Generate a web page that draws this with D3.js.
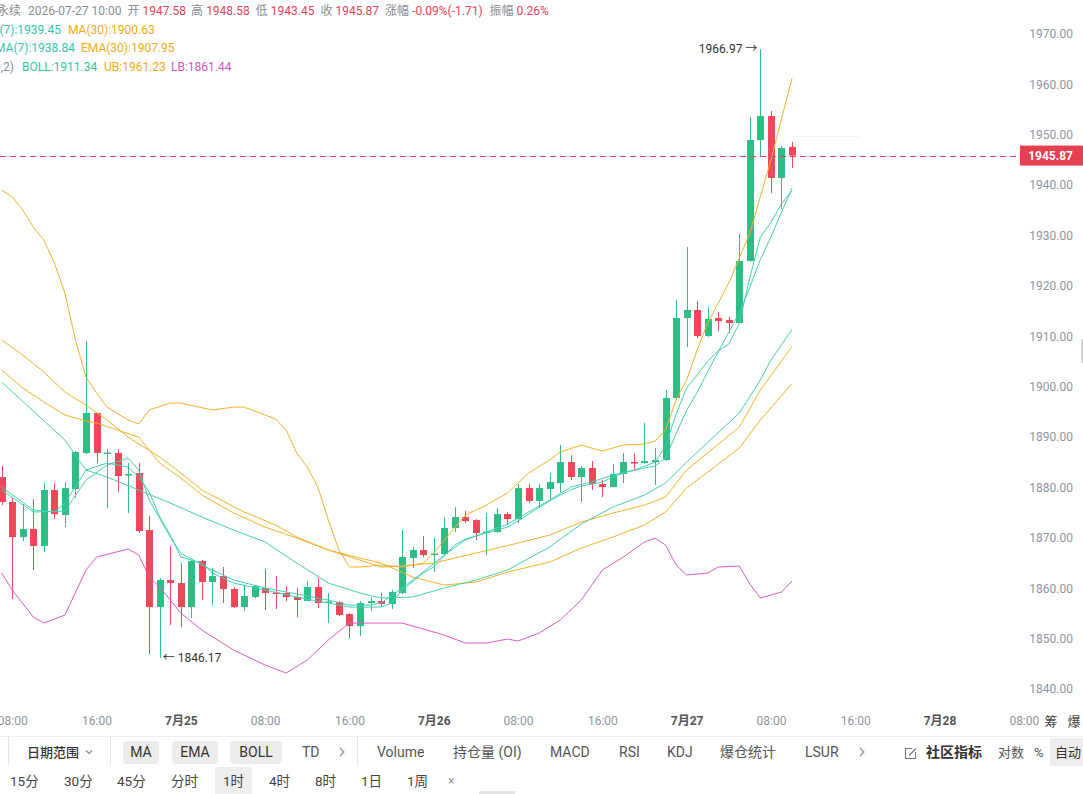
<!DOCTYPE html>
<html>
<head>
<meta charset="utf-8">
<script src="https://cdn.jsdelivr.net/npm/d3@7"></script>
<style>
  body { margin: 0; background: #fff; }
  svg { display: block; font-family: Roboto, "Noto Sans CJK SC", sans-serif; }
</style>
</head>
<body>
<div id="chart"></div>
<script>
// 1h candles, first one is 7/24 07:00
const startTime = new Date(2026, 6, 24, 7);

const opens = [1882.07, 1877.11, 1870.16, 1871.75, 1868.37, 1879.49, 1874.53, 1879.69, 1886.83, 1894.77,
  1886.73, 1886.83, 1882.47, 1882.86, 1871.55, 1856.26, 1861.63, 1861.03, 1856.26, 1865.39,
  1861.23, 1862.42, 1859.84, 1856.26, 1858.25, 1860.04, 1859.14, 1859.05, 1858.25, 1857.46,
  1860.24, 1857.16, 1857.26, 1854.88, 1852.49, 1857.06, 1857.46, 1856.86, 1859.05, 1865.99,
  1867.58, 1866.69, 1866.78, 1871.95, 1874.13, 1873.53, 1870.95, 1871.15, 1874.72, 1873.73,
  1879.88, 1877.31, 1879.69, 1880.88, 1885.05, 1882.07, 1883.86, 1880.68, 1880.08, 1882.66,
  1885.05, 1884.85, 1885.05, 1885.44, 1897.75, 1913.63, 1915.22, 1910.05, 1913.63, 1913.23,
  1912.64, 1924.94, 1948.96, 1953.72, 1941.42, 1947.58];
const highs = [1884.25, 1877.90, 1876.71, 1877.70, 1880.88, 1880.88, 1881.08, 1887.23, 1909.06, 1894.77,
  1887.63, 1887.63, 1884.85, 1884.85, 1874.33, 1862.02, 1868.37, 1864.99, 1865.59, 1865.59,
  1864.01, 1864.20, 1860.24, 1860.43, 1860.63, 1863.81, 1862.42, 1860.43, 1860.04, 1861.43,
  1862.02, 1859.05, 1857.46, 1855.07, 1857.46, 1858.25, 1859.05, 1859.64, 1871.55, 1868.18,
  1870.36, 1869.96, 1874.13, 1876.11, 1875.32, 1873.73, 1874.92, 1875.92, 1875.12, 1880.68,
  1880.68, 1880.68, 1882.86, 1888.42, 1886.43, 1884.25, 1885.25, 1881.47, 1884.65, 1886.83,
  1886.83, 1892.79, 1887.82, 1899.34, 1917.20, 1927.72, 1917.00, 1915.81, 1914.82, 1913.83,
  1930.30, 1953.53, 1966.97, 1954.72, 1947.77, 1948.58];
const lows = [1876.50, 1857.85, 1869.36, 1863.61, 1867.18, 1873.73, 1872.14, 1877.90, 1886.63, 1884.85,
  1875.92, 1879.09, 1874.92, 1870.95, 1846.94, 1846.17, 1852.69, 1852.29, 1854.08, 1857.65,
  1856.66, 1857.06, 1856.06, 1855.47, 1858.05, 1855.67, 1855.87, 1857.46, 1854.28, 1857.46,
  1856.06, 1853.09, 1854.48, 1850.11, 1850.51, 1855.47, 1856.26, 1855.87, 1858.85, 1864.01,
  1866.19, 1863.21, 1866.58, 1871.15, 1872.94, 1869.56, 1866.58, 1871.05, 1872.54, 1872.94,
  1876.91, 1875.92, 1877.70, 1879.09, 1881.47, 1877.11, 1879.49, 1878.10, 1879.98, 1880.88,
  1883.66, 1884.75, 1880.48, 1885.24, 1897.35, 1907.87, 1909.66, 1909.86, 1911.05, 1910.65,
  1912.54, 1924.84, 1945.59, 1938.44, 1935.26, 1943.45];
const closes = [1877.11, 1870.16, 1871.75, 1868.37, 1879.49, 1874.72, 1879.88, 1887.03, 1894.77, 1886.83,
  1886.93, 1882.27, 1882.66, 1871.35, 1856.26, 1861.63, 1861.03, 1856.26, 1865.39, 1861.23,
  1862.42, 1859.84, 1856.26, 1858.45, 1860.43, 1859.05, 1858.95, 1858.25, 1857.65, 1860.24,
  1857.06, 1857.36, 1854.68, 1852.49, 1857.06, 1857.46, 1856.86, 1859.24, 1866.19, 1867.58,
  1866.59, 1866.88, 1871.95, 1874.13, 1873.33, 1870.95, 1871.25, 1874.72, 1873.73, 1879.88,
  1877.31, 1879.88, 1881.08, 1885.05, 1882.07, 1883.86, 1880.68, 1880.08, 1882.66, 1885.05,
  1884.85, 1885.24, 1885.44, 1897.75, 1913.63, 1915.22, 1910.05, 1913.43, 1913.03, 1912.64,
  1924.94, 1948.96, 1953.72, 1941.42, 1947.37, 1945.87];

// indicator lines: [candle index, value]
const ma7 = [[0, 1880.08], [3, 1875.52], [5, 1875.12], [6, 1876.91], [8, 1883.46], [10, 1884.85], [12, 1884.05],
  [13, 1882.07], [14, 1879.10], [15, 1874.2], [16, 1870.5], [17, 1866.2], [19, 1865.00], [20, 1863.02], [22, 1861.03],
  [25, 1859.64], [28, 1858.25], [31, 1857.06], [33, 1856.26], [36, 1856.26], [37, 1857.06], [38, 1859.64],
  [40, 1863.02], [41, 1864.21], [42, 1866.39], [43, 1868.57], [44, 1869.76], [46, 1870.95], [48, 1872.14],
  [49, 1873.33], [50, 1874.72], [52, 1877.31], [53, 1878.50], [54, 1879.49], [55, 1880.28], [57, 1881.08],
  [58, 1882.07], [59, 1882.86], [61, 1883.86], [62, 1884.25], [63, 1885.87], [64, 1890.66], [65, 1895.31],
  [66, 1898.88], [67, 1902.97], [68, 1906.94], [69, 1910.82], [70, 1914.71], [71, 1919.75], [72, 1925.25],
  [73, 1929.73], [74, 1934.58], [75, 1939.45]];
const ema7 = [[0, 1879.49], [3, 1875.12], [6, 1875.32], [8, 1881.47], [10, 1884.45], [12, 1885.84], [13, 1883.46],
  [14, 1877.50], [16, 1870.16], [17, 1866.98], [19, 1864.60], [22, 1861.63], [25, 1860.04], [28, 1858.85],
  [31, 1857.65], [33, 1856.66], [35, 1856.66], [36, 1857.06], [38, 1860.04], [39, 1861.63], [40, 1863.21],
  [42, 1866.59], [44, 1869.57], [46, 1871.15], [48, 1872.74], [50, 1875.12], [52, 1877.50], [54, 1880.08],
  [56, 1881.08], [58, 1882.47], [60, 1883.46], [62, 1885.00], [63, 1888.19], [64, 1894.55], [65, 1899.72],
  [66, 1902.30], [67, 1905.09], [68, 1907.07], [69, 1908.46], [70, 1912.58], [71, 1921.68], [72, 1929.69],
  [73, 1932.62], [74, 1936.31], [75, 1938.84]];
const ma30 = [[0, 1909.26], [2, 1906.28], [4, 1902.91], [6, 1898.94], [8, 1896.36], [10, 1893.38], [12, 1890.00],
  [15, 1886.04], [17, 1882.86], [19, 1879.49], [23, 1875.12], [26, 1872.54], [28, 1870.16], [31, 1867.58],
  [34, 1865.99], [36, 1865.00], [39, 1862.22], [42, 1860.63], [45, 1861.23], [48, 1863.21], [52, 1865.20],
  [55, 1867.97], [58, 1870.16], [61, 1872.54], [63, 1875.12], [65, 1879.88], [70, 1887.82], [72, 1893.38],
  [75, 1900.63]];
const ema30 = [[0, 1903.31], [2, 1899.73], [4, 1896.96], [6, 1894.37], [8, 1893.18], [9, 1892.79], [11, 1891.40],
  [13, 1890.00], [15, 1884.85], [17, 1881.87], [19, 1878.50], [22, 1874.92], [25, 1872.14], [28, 1869.96],
  [31, 1867.58], [34, 1865.59], [36, 1864.20], [38, 1864.40], [41, 1865.00], [45, 1866.98], [49, 1868.96],
  [52, 1870.55], [55, 1873.13], [58, 1874.92], [61, 1876.51], [63, 1878.10], [65, 1883.46], [70, 1891.99],
  [72, 1899.34], [75, 1907.95]];
const bollMid = [[0, 1900.92], [6, 1889.41], [8, 1883.46], [10, 1882.07], [13, 1879.49], [16, 1876.91],
  [19, 1874.13], [22, 1871.55], [25, 1869.17], [28, 1865.00], [31, 1861.03], [34, 1859.05], [36, 1858.05],
  [39, 1858.25], [42, 1860.04], [45, 1861.63], [48, 1863.61], [52, 1868.18], [55, 1872.74], [58, 1876.11],
  [61, 1878.50], [63, 1880.88], [65, 1885.05], [70, 1894.77], [72, 1901.32], [73, 1905.29], [75, 1911.34]];
const bollUp = [[0, 1939.04], [1, 1937.65], [2, 1935.07], [3, 1931.69], [4, 1929.11], [5, 1924.54], [6, 1918.59],
  [7, 1909.26], [8, 1901.92], [9, 1898.74], [10, 1895.96], [12, 1893.38], [13, 1892.59], [14, 1895.37],
  [16, 1896.76], [17, 1896.76], [20, 1895.37], [22, 1895.96], [23, 1895.96], [25, 1894.38], [26, 1893.58],
  [27, 1891.40], [28, 1886.83], [29, 1884.06], [30, 1880.09], [31, 1873.54], [32, 1867.58], [33, 1864.21],
  [34, 1864.21], [36, 1864.60], [38, 1864.21], [40, 1865.00], [41, 1866.98], [42, 1869.57], [44, 1874.53],
  [46, 1876.51], [48, 1878.89], [50, 1882.86], [52, 1885.44], [53, 1887.03], [55, 1888.42], [57, 1887.23],
  [59, 1888.42], [61, 1888.62], [62, 1889.21], [63, 1891.40], [64, 1897.35], [65, 1901.32], [66, 1907.28],
  [67, 1912.64], [69, 1920.57], [71, 1930.50], [73, 1944.99], [75, 1961.23]];
const bollLow = [[0, 1863.02], [1, 1859.64], [3, 1854.28], [4, 1853.09], [6, 1854.68], [8, 1863.61], [9, 1866.19],
  [12, 1867.78], [13, 1866.59], [14, 1862.22], [15, 1860.24], [17, 1855.07], [19, 1851.70], [22, 1847.73],
  [25, 1844.75], [27, 1843.16], [29, 1845.75], [31, 1849.72], [33, 1853.09], [34, 1853.09], [38, 1853.09],
  [40, 1851.90], [42, 1850.71], [44, 1849.12], [46, 1849.12], [48, 1849.91], [49, 1849.52], [51, 1851.10],
  [53, 1853.69], [55, 1857.65], [57, 1863.61], [59, 1866.19], [61, 1869.17], [62, 1869.96], [63, 1868.57],
  [64, 1864.60], [65, 1862.62], [67, 1863.02], [68, 1864.21], [70, 1864.40], [71, 1860.83], [72, 1858.05],
  [74, 1859.24], [75, 1861.44]];

const priceTicks = d3.range(1840, 1971, 10);

const toolbarTop = ["MA", "EMA", "BOLL"];
const toolbarMid = ["TD"];
const toolbarPanels = ["Volume", "持仓量 (OI)", "MACD", "RSI", "KDJ", "爆仓统计", "LSUR"];
const periods = ["15分", "30分", "45分", "分时", "1时", "4时", "8时", "1日", "1周"];

const width = 1083, height = 794;
const up = "#2ebd85", down = "#f0485b";
const teal = "#46d0b2", orange = "#f2b32a", pink = "#dc5cc6";
const gray = "#8a8d93", red = "#e5445a";
// plain hyphen instead of d3's unicode minus
const f2 = v => d3.format(".2f")(v).replace("−", "-");
const pct = v => d3.format(".2%")(v).replace("−", "-");

const svg = d3.select("#chart")
  .append("svg")
  .attr("width", width)
  .attr("height", height);

const times = opens.map((d, i) => d3.timeHour.offset(startTime, i));

const x = d3.scaleTime()
  .domain([times[0], times[times.length - 1]])
  .range([1.7, 792]);

const y = d3.scaleLinear()
  .domain([1840, 1970])
  .range([689, 34]);

// faint crosshair remnant
svg.append("line")
  .attr("x1", 796).attr("x2", 860)
  .attr("y1", 136.5).attr("y2", 136.5)
  .attr("stroke", "#f4f4f4");

// candles
const candles = svg.append("g");
const candle = candles.selectAll("g")
  .data(opens.map((o, i) => ({ t: times[i], o: o, h: highs[i], l: lows[i], c: closes[i] })))
  .enter()
  .append("g")
  .attr("fill", d => d.c >= d.o ? up : down)
  .attr("stroke", d => d.c >= d.o ? up : down);

candle.append("line")
  .attr("x1", d => Math.round(x(d.t)) + 0.5)
  .attr("x2", d => Math.round(x(d.t)) + 0.5)
  .attr("y1", d => y(d.h))
  .attr("y2", d => y(d.l));

candle.append("rect")
  .attr("stroke", "none")
  .attr("x", d => Math.round(x(d.t)) - 3)
  .attr("width", 7)
  .attr("y", d => y(Math.max(d.o, d.c)))
  .attr("height", d => Math.max(1.5, Math.abs(y(d.o) - y(d.c))));

// indicator lines
const line = d3.line()
  .x(d => x(times[d[0]]))
  .y(d => y(d[1]));

[[bollLow, pink], [bollUp, orange], [ma30, orange], [ema30, orange],
 [bollMid, teal], [ma7, teal], [ema7, teal]].forEach(([data, color]) => {
  svg.append("path")
    .datum(data)
    .attr("fill", "none")
    .attr("stroke", color)
    .attr("stroke-width", 1)
    .attr("d", line);
});

// high / low marks
const hiIdx = d3.maxIndex(highs), loIdx = d3.minIndex(lows);
svg.append("text")
  .attr("x", x(times[hiIdx]) - 3)
  .attr("y", y(highs[hiIdx]))
  .attr("dy", "0.35em")
  .attr("text-anchor", "end")
  .attr("font-size", 12)
  .attr("fill", "#333")
  .text(f2(highs[hiIdx]) + " →");
svg.append("text")
  .attr("x", x(times[loIdx]) + 3)
  .attr("y", y(lows[loIdx]))
  .attr("dy", "0.35em")
  .attr("font-size", 12)
  .attr("fill", "#333")
  .text("← " + f2(lows[loIdx]));

// last price line + tag
const last = closes[closes.length - 1];
const lastY = Math.round(y(last)) + 0.5;
svg.append("line")
  .attr("x1", 0).attr("x2", 1020)
  .attr("y1", lastY).attr("y2", lastY)
  .attr("stroke", "#e0456a")
  .attr("stroke-dasharray", "6,4");
svg.append("rect")
  .attr("x", 1020).attr("y", y(last) - 10)
  .attr("width", 63).attr("height", 20)
  .attr("fill", "#e5404f");

// price axis
svg.append("g")
  .attr("transform", "translate(1073,0)")
  .call(d3.axisLeft(y).tickValues(priceTicks).tickFormat(f2).tickSize(0).tickPadding(0))
  .call(g => g.select(".domain").remove())
  .selectAll("text")
  .attr("font-family", "Roboto")
  .attr("font-size", 12)
  .attr("fill", "#8f959e");

svg.append("text")
  .attr("x", 1073).attr("y", y(last))
  .attr("dy", "0.35em")
  .attr("text-anchor", "end")
  .attr("font-size", 12)
  .attr("font-weight", "bold")
  .attr("fill", "#fff")
  .text(f2(last));

// scroll handle at the right edge
svg.append("rect")
  .attr("x", 1081).attr("y", 339).attr("width", 2).attr("height", 24)
  .attr("fill", "#d6d6d6");

// time axis
const timeTicks = d3.timeHour.every(8).range(new Date(2026, 6, 24, 8), new Date(2026, 6, 28, 9));
const hm = d3.timeFormat("%H:%M");
svg.append("g")
  .attr("transform", "translate(0,713)")
  .call(d3.axisBottom(x).tickValues(timeTicks).tickSize(0).tickPadding(3)
    .tickFormat(d => d.getHours() === 0 ? (d.getMonth() + 1) + "月" + d.getDate() : hm(d)))
  .call(g => g.select(".domain").remove())
  .selectAll("text")
  .attr("font-family", "Roboto, 'Noto Sans CJK SC'")
  .attr("font-size", 12)
  .attr("fill", d => d.getHours() === 0 ? "#555" : "#8f949c")
  .attr("font-weight", d => d.getHours() === 0 ? "bold" : "normal");

svg.append("text").attr("x", 1051).attr("y", 721).attr("dy", "0.35em")
  .attr("text-anchor", "middle").attr("font-size", 13).attr("fill", "#444").text("筹");
svg.append("text").attr("x", 1074).attr("y", 721).attr("dy", "0.35em")
  .attr("text-anchor", "middle").attr("font-size", 13).attr("fill", "#444").text("爆");

// header: last bar info
const o = opens[opens.length - 1], h = highs[highs.length - 1], l = lows[lows.length - 1];
const chg = last - o;
svg.append("text")
  .attr("x", 21).attr("y", 11)
  .attr("dy", "0.35em")
  .attr("text-anchor", "end")
  .attr("font-size", 12)
  .attr("fill", gray)
  .text("永续");
const header = svg.append("text")
  .attr("x", 28).attr("y", 11)
  .attr("dy", "0.35em")
  .attr("font-size", 12);
[["2026-07-27 10:00", gray, 0],
 ["开", gray, 6], [f2(o), red, 3], ["高", gray, 5], [f2(h), red, 3],
 ["低", gray, 6], [f2(l), red, 3], ["收", gray, 6], [f2(last), red, 3],
 ["涨幅", gray, 6], [pct(chg / o) + "(" + f2(chg) + ")", red, 3],
 ["振幅", gray, 7], [pct((h - l) / o), red, 3]
].forEach(([t, c, dx]) => {
  header.append("tspan").attr("dx", dx).attr("fill", c).text(t);
});

const legend = (ly, ax, txt, color, anchor) => {
  svg.append("text")
    .attr("x", ax).attr("y", ly)
    .attr("dy", "0.35em")
    .attr("text-anchor", anchor || "start")
    .attr("font-size", 12)
    .attr("fill", color)
    .text(txt);
};
legend(29.5, 61, "MA(7):" + f2(ma7[ma7.length - 1][1]), "#35c7a5", "end");
legend(29.5, 68, "MA(30):" + f2(ma30[ma30.length - 1][1]), "#f2a91c");
legend(48, 75, "EMA(7):" + f2(ema7[ema7.length - 1][1]), "#35c7a5", "end");
legend(48, 81, "EMA(30):" + f2(ema30[ema30.length - 1][1]), "#f2a91c");
legend(66.5, 14, "BOLL(20,2)", gray, "end");
legend(66.5, 22, "BOLL:" + f2(bollMid[bollMid.length - 1][1]), "#35c7a5");
legend(66.5, 104, "UB:" + f2(bollUp[bollUp.length - 1][1]), "#f2a91c");
legend(66.5, 171, "LB:" + f2(bollLow[bollLow.length - 1][1]), "#d754c0");

// bottom toolbar
const bar = svg.append("g");
bar.append("line").attr("x1", 0).attr("x2", width).attr("y1", 736.5).attr("y2", 736.5).attr("stroke", "#eeeeee");
[8, 110, 357].forEach(vx => {
  bar.append("line").attr("x1", vx + 0.5).attr("x2", vx + 0.5).attr("y1", 737).attr("y2", 766).attr("stroke", "#e6e6e6");
});

const ui = (tx, ty, txt, opts) => {
  opts = opts || {};
  return bar.append("text")
    .attr("x", tx).attr("y", ty)
    .attr("dominant-baseline", "central")
    .attr("text-anchor", opts.anchor || "start")
    .attr("font-size", opts.size || 14)
    .attr("font-weight", opts.weight || "normal")
    .attr("fill", opts.color || "#555")
    .text(txt);
};
const chevron = (cx, cy, down) => {
  bar.append("path")
    .attr("d", down ? `M${cx - 3},${cy - 1.5}L${cx},${cy + 1.5}L${cx + 3},${cy - 1.5}`
                    : `M${cx - 2},${cy - 4}L${cx + 2},${cy}L${cx - 2},${cy + 4}`)
    .attr("fill", "none").attr("stroke", "#888").attr("stroke-width", 1.1);
};

const r1 = 752, r2 = 781;
ui(27, r1, "日期范围", { size: 13, weight: 500, color: "#333" });
chevron(89, r1, true);

const btnX = [[123, 36], [172, 46], [230, 52]];
toolbarTop.forEach((t, i) => {
  bar.append("rect").attr("x", btnX[i][0]).attr("y", 741).attr("width", btnX[i][1]).attr("height", 23)
    .attr("rx", 4).attr("fill", "#ececec");
  ui(btnX[i][0] + btnX[i][1] / 2, r1, t, { anchor: "middle", color: "#333" });
});
ui(302, r1, toolbarMid[0]);
chevron(342, r1);

const panelX = [377, 453, 550, 619, 667, 720, 805];
toolbarPanels.forEach((t, i) => ui(panelX[i], r1, t));
chevron(862, r1);

// edit icon
bar.append("path")
  .attr("d", "M912,748.5h-6.5v10h10v-6.5M909,755.5l7-7")
  .attr("fill", "none").attr("stroke", "#777").attr("stroke-width", 1.1);
ui(926, r1, "社区指标", { weight: "bold", color: "#333" });
ui(998, r1, "对数", { size: 13 });
ui(1034, r1, "%", { size: 13 });
bar.append("rect").attr("x", 1050).attr("y", 738).attr("width", 34).attr("height", 28).attr("fill", "#eeeeee");
ui(1055, r1, "自动", { size: 13, color: "#333" });

const periodX = [10, 64, 117, 171, 223, 269, 315, 361, 407];
bar.append("rect").attr("x", 215).attr("y", 767).attr("width", 37).attr("height", 30).attr("rx", 3).attr("fill", "#eeeeee");
periods.forEach((t, i) => ui(periodX[i], r2, t, { size: 13.5, color: "#444" }));
ui(448, r2, "×", { size: 12, color: "#999" });
bar.append("rect").attr("x", 479).attr("y", 791).attr("width", 36).attr("height", 4).attr("rx", 1).attr("fill", "#e3e3e3");
</script>
</body>
</html>
